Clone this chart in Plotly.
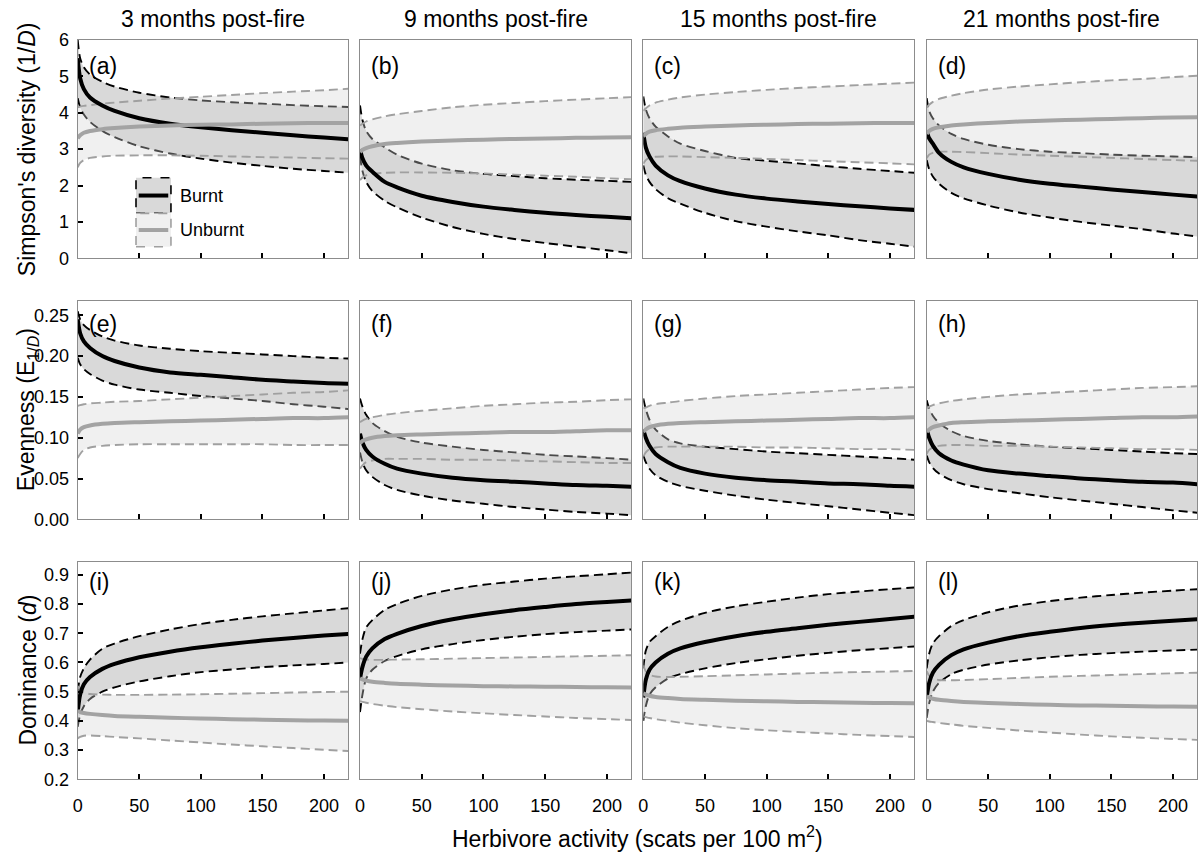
import plotly.graph_objects as go

# ---------------- data ----------------
X = [0, 2, 5, 10, 20, 30, 50, 75, 100, 125, 150, 175, 200, 220]

# Row 1: Simpson's diversity
a_b_mean = [5.5, 4.95, 4.65, 4.42, 4.2, 4.05, 3.85, 3.7, 3.6, 3.52, 3.45, 3.38, 3.32, 3.27]
a_b_hi = [6.0, 5.5, 5.25, 5.05, 4.85, 4.72, 4.55, 4.42, 4.34, 4.29, 4.25, 4.21, 4.18, 4.16]
a_b_lo = [4.4, 4.15, 3.95, 3.75, 3.5, 3.33, 3.08, 2.88, 2.74, 2.63, 2.54, 2.46, 2.4, 2.35]
a_u_mean = [3.3, 3.38, 3.45, 3.5, 3.55, 3.58, 3.62, 3.65, 3.67, 3.68, 3.7, 3.71, 3.72, 3.72]
a_u_hi = [4.15, 4.17, 4.19, 4.21, 4.25, 4.28, 4.33, 4.39, 4.44, 4.49, 4.54, 4.58, 4.62, 4.66]
a_u_lo = [2.5, 2.62, 2.7, 2.76, 2.8, 2.82, 2.83, 2.83, 2.82, 2.8, 2.78, 2.77, 2.75, 2.74]

b_b_mean = [3.0, 2.75, 2.55, 2.38, 2.1, 1.95, 1.72, 1.55, 1.42, 1.33, 1.25, 1.19, 1.14, 1.1]
b_b_hi = [4.2, 3.8, 3.5, 3.28, 3.05, 2.85, 2.6, 2.42, 2.32, 2.26, 2.2, 2.16, 2.13, 2.1]
b_b_lo = [2.8, 2.4, 2.1, 1.85, 1.58, 1.4, 1.12, 0.86, 0.67, 0.53, 0.42, 0.32, 0.22, 0.14]
b_u_mean = [2.92, 2.98, 3.03, 3.08, 3.14, 3.17, 3.21, 3.24, 3.26, 3.28, 3.29, 3.31, 3.32, 3.33]
b_u_hi = [3.65, 3.7, 3.76, 3.82, 3.9, 3.96, 4.05, 4.15, 4.22, 4.27, 4.32, 4.36, 4.4, 4.43]
b_u_lo = [2.15, 2.22, 2.28, 2.32, 2.35, 2.36, 2.36, 2.35, 2.33, 2.3, 2.27, 2.24, 2.2, 2.17]

c_b_mean = [3.45, 3.05, 2.8, 2.55, 2.28, 2.12, 1.92, 1.75, 1.64, 1.56, 1.49, 1.43, 1.37, 1.33]
c_b_hi = [4.45, 4.1, 3.85, 3.62, 3.35, 3.15, 2.95, 2.76, 2.68, 2.61, 2.53, 2.46, 2.4, 2.35]
c_b_lo = [2.55, 2.3, 2.1, 1.9, 1.65, 1.5, 1.25, 1.02, 0.87, 0.74, 0.63, 0.5, 0.4, 0.32]
c_u_mean = [3.35, 3.42, 3.48, 3.52, 3.56, 3.59, 3.62, 3.65, 3.67, 3.69, 3.7, 3.71, 3.72, 3.72]
c_u_hi = [4.05, 4.12, 4.2, 4.28, 4.36, 4.42, 4.5, 4.57, 4.63, 4.68, 4.72, 4.76, 4.8, 4.83]
c_u_lo = [2.6, 2.7, 2.76, 2.79, 2.8, 2.8, 2.78, 2.76, 2.73, 2.7, 2.67, 2.64, 2.61, 2.58]

d_b_mean = [3.5, 3.3, 3.15, 2.9, 2.65, 2.5, 2.32, 2.16, 2.05, 1.97, 1.89, 1.82, 1.75, 1.7]
d_b_hi = [4.4, 4.05, 3.85, 3.65, 3.42, 3.28, 3.12, 3.0, 2.93, 2.89, 2.85, 2.82, 2.8, 2.78]
d_b_lo = [2.7, 2.45, 2.25, 2.05, 1.8, 1.65, 1.45, 1.26, 1.12, 1.0, 0.9, 0.8, 0.68, 0.6]
d_u_mean = [3.42, 3.5, 3.56, 3.6, 3.65, 3.68, 3.72, 3.76, 3.79, 3.81, 3.83, 3.85, 3.87, 3.88]
d_u_hi = [4.15, 4.22, 4.3, 4.38, 4.47, 4.54, 4.64, 4.72, 4.78, 4.84, 4.89, 4.93, 4.98, 5.02]
d_u_lo = [2.75, 2.85, 2.9, 2.93, 2.93, 2.92, 2.89, 2.85, 2.82, 2.79, 2.76, 2.73, 2.7, 2.68]

# Row 2: Evenness
e_b_mean = [0.245, 0.228, 0.218, 0.21, 0.2, 0.194, 0.186, 0.18, 0.177, 0.174, 0.171, 0.169, 0.167, 0.166]
e_b_hi = [0.255, 0.245, 0.238, 0.232, 0.224, 0.219, 0.213, 0.209, 0.206, 0.204, 0.202, 0.2, 0.198, 0.197]
e_b_lo = [0.198, 0.19, 0.184, 0.178, 0.17, 0.165, 0.159, 0.155, 0.151, 0.148, 0.145, 0.141, 0.138, 0.135]
e_u_mean = [0.105, 0.11, 0.113, 0.115, 0.117, 0.118, 0.119, 0.12, 0.121, 0.122, 0.123, 0.124, 0.124, 0.125]
e_u_hi = [0.139, 0.14, 0.141, 0.142, 0.143, 0.144, 0.145, 0.147, 0.149, 0.151, 0.153, 0.155, 0.156, 0.158]
e_u_lo = [0.075, 0.08, 0.085, 0.088, 0.09, 0.091, 0.092, 0.092, 0.092, 0.092, 0.092, 0.091, 0.091, 0.091]

f_b_mean = [0.105, 0.094, 0.085, 0.077, 0.068, 0.062, 0.056, 0.051, 0.048, 0.046, 0.044, 0.042, 0.041, 0.04]
f_b_hi = [0.148, 0.138, 0.128, 0.118, 0.108, 0.101, 0.094, 0.089, 0.085, 0.082, 0.079, 0.077, 0.075, 0.073]
f_b_lo = [0.082, 0.07, 0.06, 0.052, 0.042, 0.036, 0.029, 0.023, 0.019, 0.015, 0.012, 0.009, 0.007, 0.005]
f_u_mean = [0.093, 0.096, 0.098, 0.1, 0.102, 0.103, 0.104, 0.105, 0.106, 0.107, 0.107, 0.108, 0.109, 0.109]
f_u_hi = [0.119, 0.121, 0.123, 0.125, 0.128, 0.13, 0.133, 0.136, 0.139, 0.141, 0.143, 0.144, 0.146, 0.147]
f_u_lo = [0.062, 0.066, 0.07, 0.072, 0.074, 0.074, 0.074, 0.073, 0.073, 0.072, 0.071, 0.07, 0.069, 0.069]

g_b_mean = [0.11, 0.1, 0.09, 0.08, 0.07, 0.063, 0.056, 0.051, 0.048, 0.046, 0.044, 0.043, 0.041, 0.04]
g_b_hi = [0.148, 0.135, 0.122, 0.11, 0.098, 0.093, 0.089, 0.086, 0.083, 0.081, 0.079, 0.077, 0.075, 0.073]
g_b_lo = [0.078, 0.07, 0.062, 0.054, 0.046, 0.041, 0.035, 0.029, 0.024, 0.02, 0.016, 0.012, 0.008, 0.005]
g_u_mean = [0.107, 0.11, 0.113, 0.115, 0.117, 0.118, 0.119, 0.12, 0.121, 0.122, 0.123, 0.124, 0.124, 0.125]
g_u_hi = [0.136, 0.137, 0.139, 0.141, 0.143, 0.145, 0.148, 0.151, 0.153, 0.155, 0.157, 0.159, 0.161, 0.162]
g_u_lo = [0.077, 0.082, 0.086, 0.088, 0.089, 0.089, 0.089, 0.089, 0.088, 0.088, 0.087, 0.086, 0.086, 0.085]

h_b_mean = [0.11, 0.1, 0.09, 0.081, 0.072, 0.067, 0.06, 0.056, 0.053, 0.05, 0.048, 0.046, 0.045, 0.043]
h_b_hi = [0.146, 0.136, 0.127, 0.118, 0.108, 0.102, 0.096, 0.092, 0.089, 0.087, 0.085, 0.083, 0.081, 0.08]
h_b_lo = [0.078, 0.07, 0.063, 0.056, 0.048, 0.043, 0.037, 0.032, 0.027, 0.023, 0.019, 0.015, 0.011, 0.008]
h_u_mean = [0.107, 0.11, 0.113, 0.115, 0.118, 0.119, 0.12, 0.121, 0.122, 0.123, 0.124, 0.125, 0.125, 0.126]
h_u_hi = [0.136, 0.138, 0.14, 0.142, 0.145, 0.147, 0.15, 0.153, 0.155, 0.157, 0.159, 0.161, 0.162, 0.163]
h_u_lo = [0.08, 0.085, 0.088, 0.09, 0.091, 0.091, 0.09, 0.09, 0.089, 0.088, 0.087, 0.086, 0.086, 0.085]

# Row 3: Dominance
i_b_mean = [0.43, 0.49, 0.525, 0.55, 0.578, 0.595, 0.618, 0.637, 0.652, 0.664, 0.675, 0.684, 0.692, 0.698]
i_b_hi = [0.5, 0.55, 0.58, 0.61, 0.647, 0.665, 0.69, 0.713, 0.732, 0.746, 0.758, 0.768, 0.778, 0.786]
i_b_lo = [0.38, 0.42, 0.45, 0.475, 0.5, 0.515, 0.535, 0.553, 0.567, 0.576, 0.584, 0.59, 0.595, 0.6]
i_u_mean = [0.435, 0.43, 0.427, 0.424, 0.42, 0.417, 0.414, 0.411, 0.408, 0.406, 0.404, 0.402, 0.401, 0.4]
i_u_hi = [0.52, 0.505, 0.497, 0.492, 0.49, 0.489, 0.489, 0.49, 0.491, 0.493, 0.495, 0.497, 0.499, 0.5]
i_u_lo = [0.34, 0.345, 0.349, 0.35, 0.348, 0.345, 0.34, 0.333, 0.326, 0.319, 0.313, 0.307, 0.301, 0.297]

j_b_mean = [0.545, 0.585, 0.62, 0.648, 0.68, 0.698, 0.725, 0.748, 0.765, 0.779, 0.79, 0.8, 0.807, 0.812]
j_b_hi = [0.63, 0.68, 0.72, 0.745, 0.78, 0.8, 0.828, 0.85, 0.866, 0.877, 0.887, 0.895, 0.902, 0.908]
j_b_lo = [0.43, 0.49, 0.545, 0.575, 0.605, 0.622, 0.645, 0.663, 0.677, 0.688, 0.697, 0.704, 0.709, 0.713]
j_u_mean = [0.546, 0.542, 0.538, 0.534, 0.53, 0.527, 0.524, 0.521, 0.519, 0.518, 0.517, 0.516, 0.515, 0.514]
j_u_hi = [0.615, 0.612, 0.61, 0.609, 0.609, 0.61, 0.611, 0.613, 0.615, 0.617, 0.619, 0.621, 0.623, 0.625]
j_u_lo = [0.468, 0.465, 0.462, 0.458, 0.452, 0.447, 0.44, 0.432, 0.426, 0.42, 0.415, 0.41, 0.406, 0.403]

k_b_mean = [0.48, 0.54, 0.575, 0.6, 0.63, 0.648, 0.67, 0.69, 0.705, 0.717, 0.729, 0.739, 0.749, 0.757]
k_b_hi = [0.58, 0.64, 0.67, 0.69, 0.722, 0.742, 0.77, 0.792, 0.808, 0.822, 0.834, 0.843, 0.851, 0.857]
k_b_lo = [0.4, 0.45, 0.49, 0.515, 0.545, 0.56, 0.58, 0.598, 0.611, 0.623, 0.633, 0.642, 0.649, 0.655]
k_u_mean = [0.495, 0.49, 0.486, 0.482, 0.478, 0.475, 0.472, 0.469, 0.467, 0.465, 0.464, 0.462, 0.461, 0.46]
k_u_hi = [0.59, 0.57, 0.558, 0.552, 0.55, 0.551, 0.553, 0.556, 0.559, 0.562, 0.565, 0.567, 0.569, 0.571]
k_u_lo = [0.415, 0.413, 0.41, 0.406, 0.4, 0.394, 0.385, 0.375, 0.368, 0.362, 0.357, 0.352, 0.348, 0.345]

l_b_mean = [0.48, 0.53, 0.565, 0.592, 0.625, 0.645, 0.668, 0.69, 0.705, 0.718, 0.728, 0.736, 0.743, 0.748]
l_b_hi = [0.58, 0.63, 0.665, 0.69, 0.725, 0.745, 0.772, 0.795, 0.81, 0.822, 0.831, 0.839, 0.846, 0.851]
l_b_lo = [0.41, 0.46, 0.5, 0.53, 0.56, 0.575, 0.593, 0.607, 0.618, 0.626, 0.632, 0.637, 0.641, 0.644]
l_u_mean = [0.485, 0.48, 0.476, 0.472, 0.468, 0.465, 0.461, 0.458, 0.455, 0.453, 0.452, 0.45, 0.449, 0.448]
l_u_hi = [0.57, 0.555, 0.545, 0.54, 0.539, 0.54, 0.543, 0.547, 0.551, 0.554, 0.557, 0.56, 0.563, 0.565]
l_u_lo = [0.4, 0.398, 0.396, 0.393, 0.388, 0.383, 0.376, 0.367, 0.36, 0.353, 0.347, 0.342, 0.338, 0.335]

COL_TITLES = ["3 months post-fire", "9 months post-fire", "15 months post-fire", "21 months post-fire"]
PANEL_LABELS = ["(a)", "(b)", "(c)", "(d)", "(e)", "(f)", "(g)", "(h)", "(i)", "(j)", "(k)", "(l)"]
ROW_TITLES = ["Simpson's diversity (1/<i>D</i>)",
              "Evenness (E<sub>1/<i>D</i></sub>)",
              "Dominance (<i>d</i>)"]
X_TITLE = "Herbivore activity (scats per 100 m<sup>2</sup>)"
LEGEND_NAMES = ["Burnt", "Unburnt"]
X_TICKS = [0, 50, 100, 150, 200]
Y_TICKS = [[0, 1, 2, 3, 4, 5, 6],
           [0.0, 0.05, 0.10, 0.15, 0.20, 0.25],
           [0.2, 0.3, 0.4, 0.5, 0.6, 0.7, 0.8, 0.9]]
Y_TICKFMT = ["d", ".2f", ".1f"]

PANELS = [
    (a_b_lo, a_b_hi, a_b_mean, a_u_lo, a_u_hi, a_u_mean),
    (b_b_lo, b_b_hi, b_b_mean, b_u_lo, b_u_hi, b_u_mean),
    (c_b_lo, c_b_hi, c_b_mean, c_u_lo, c_u_hi, c_u_mean),
    (d_b_lo, d_b_hi, d_b_mean, d_u_lo, d_u_hi, d_u_mean),
    (e_b_lo, e_b_hi, e_b_mean, e_u_lo, e_u_hi, e_u_mean),
    (f_b_lo, f_b_hi, f_b_mean, f_u_lo, f_u_hi, f_u_mean),
    (g_b_lo, g_b_hi, g_b_mean, g_u_lo, g_u_hi, g_u_mean),
    (h_b_lo, h_b_hi, h_b_mean, h_u_lo, h_u_hi, h_u_mean),
    (i_b_lo, i_b_hi, i_b_mean, i_u_lo, i_u_hi, i_u_mean),
    (j_b_lo, j_b_hi, j_b_mean, j_u_lo, j_u_hi, j_u_mean),
    (k_b_lo, k_b_hi, k_b_mean, k_u_lo, k_u_hi, k_u_mean),
    (l_b_lo, l_b_hi, l_b_mean, l_u_lo, l_u_hi, l_u_mean),
]

# ---------------- layout / styles ----------------
W, H = 1198, 855
COL_PX = [(77.7, 348.0), (360.0, 631.0), (643.3, 914.0), (926.7, 1197.0)]
ROW_PX = [(40.0, 258.3), (301.0, 519.3), (561.7, 779.3)]
Y_RANGES = [[0, 6], [0, 0.2675], [0.2, 0.945]]
X_RANGE = [0, 219.5]
FONT = "Liberation Sans, Arial, sans-serif"

BURNT_FILL = "#d9d9d9"
UNBURNT_FILL = "rgba(211,211,211,0.35)"
BURNT_LINE = "#000000"
UNBURNT_LINE = "#a3a3a3"
UNBURNT_DASH = "#a0a0a0"
BORDER = "#8c8c8c"
DASH = "9px,5px"
SMOOTH = 0.8

fig = go.Figure()
layout = dict(width=W, height=H, margin=dict(l=0, r=0, t=0, b=0, pad=0), autosize=False,
              paper_bgcolor="white", plot_bgcolor="white", showlegend=False,
              font=dict(family=FONT, color="black", size=18))
annotations = []
shapes = []

for p, (blo, bhi, bmean, ulo, uhi, umean) in enumerate(PANELS):
    r, c = divmod(p, 4)
    n = "" if p == 0 else str(p + 1)
    xa, ya = "x" + n, "y" + n
    common = dict(xaxis=xa, yaxis=ya, x=X, mode="lines", hoverinfo="skip",
                  line_shape="spline", line_smoothing=SMOOTH)
    # burnt confidence band
    fig.add_trace(go.Scatter(y=blo, line=dict(color=BURNT_LINE, width=1.9, dash=DASH), **common))
    fig.add_trace(go.Scatter(y=bhi, fill="tonexty", fillcolor=BURNT_FILL,
                             line=dict(color=BURNT_LINE, width=1.9, dash=DASH), **common))
    # unburnt confidence band (semi transparent, drawn above)
    fig.add_trace(go.Scatter(y=ulo, line=dict(color=UNBURNT_DASH, width=1.9, dash=DASH), **common))
    fig.add_trace(go.Scatter(y=uhi, fill="tonexty", fillcolor=UNBURNT_FILL,
                             line=dict(color=UNBURNT_DASH, width=1.9, dash=DASH), **common))
    # fitted means
    fig.add_trace(go.Scatter(y=bmean, line=dict(color=BURNT_LINE, width=4), **common))
    fig.add_trace(go.Scatter(y=umean, line=dict(color=UNBURNT_LINE, width=4), **common))

    x0, x1 = COL_PX[c]
    y0, y1 = ROW_PX[r]
    layout["xaxis" + n] = dict(
        domain=[x0 / W, x1 / W], anchor=ya, range=X_RANGE, automargin=False,
        showline=True, linecolor=BORDER, linewidth=1, mirror=True,
        ticks="inside", ticklen=5, tickwidth=1.5, tickcolor="black",
        tickvals=X_TICKS, showticklabels=(r == 2), ticklabelstandoff=10,
        showgrid=False, zeroline=False, tickfont=dict(size=18, color="black"))
    layout["yaxis" + n] = dict(
        domain=[1 - y1 / H, 1 - y0 / H], anchor=xa, range=Y_RANGES[r], automargin=False,
        showline=True, linecolor=BORDER, linewidth=1, mirror=True,
        ticks="inside" if c == 0 else "", ticklen=5, tickwidth=1.5, tickcolor="black",
        tickvals=Y_TICKS[r], tickformat=Y_TICKFMT[r], showticklabels=(c == 0),
        ticklabelstandoff=4,
        showgrid=False, zeroline=False, tickfont=dict(size=18, color="black"))

    # panel letter
    top_off = [11, 8, 5][r]
    annotations.append(dict(text=PANEL_LABELS[p], xref=xa + " domain", yref=ya + " domain",
                            x=9 / (x1 - x0), y=1 - top_off / (y1 - y0),
                            xanchor="left", yanchor="top", showarrow=False,
                            font=dict(size=23, color="black")))

# column titles
for c, t in enumerate(COL_TITLES):
    x0, x1 = COL_PX[c]
    annotations.append(dict(text=t, xref="paper", yref="paper", x=(x0 + x1) / 2 / W,
                            y=1 - 19 / H, xanchor="center", yanchor="middle",
                            showarrow=False, font=dict(size=23, color="black")))
# row titles
for r, t in enumerate(ROW_TITLES):
    y0, y1 = ROW_PX[r]
    annotations.append(dict(text=t, xref="paper", yref="paper", x=27 / W,
                            y=1 - (y0 + y1) / 2 / H, xanchor="center", yanchor="middle",
                            textangle=-90, showarrow=False, font=dict(size=23, color="black")))
# x title
annotations.append(dict(text=X_TITLE, xref="paper", yref="paper",
                        x=(COL_PX[0][0] + COL_PX[3][1]) / 2 / W, y=1 - 837 / H,
                        xanchor="center", yanchor="middle", showarrow=False,
                        font=dict(size=23, color="black")))

# legend inside panel (a)
LEG = dict(x0=0.2157, x1=0.345, rows=[(0.369, 0.206), (0.206, 0.053)])
leg_styles = [(BURNT_FILL, BURNT_LINE, BURNT_LINE), ("#f0f0f0", UNBURNT_DASH, UNBURNT_LINE)]
for k, ((yt, yb), (fillc, borderc, linec)) in enumerate(zip(LEG["rows"], leg_styles)):
    shapes.append(dict(type="rect", xref="x domain", yref="y domain",
                       x0=LEG["x0"], x1=LEG["x1"], y0=yb, y1=yt, fillcolor=fillc,
                       line=dict(color=borderc, width=1.6, dash="dash"), layer="above"))
    ym = (yt + yb) / 2
    shapes.append(dict(type="line", xref="x domain", yref="y domain",
                       x0=LEG["x0"] + 0.01, x1=LEG["x1"] - 0.01, y0=ym, y1=ym,
                       line=dict(color=linec, width=4), layer="above"))
    annotations.append(dict(text=LEGEND_NAMES[k], xref="x domain", yref="y domain",
                            x=0.372, y=ym, xanchor="left", yanchor="middle",
                            showarrow=False, font=dict(size=18, color="black")))

layout["annotations"] = annotations
layout["shapes"] = shapes
fig.update_layout(**layout)

# remove the default page margin so the figure sits at the window origin
POST = ("document.documentElement.style.margin='0';document.body.style.margin='0';"
        "document.body.style.padding='0';document.body.style.overflow='hidden';")
fig.write_html("out.html", post_script=POST, config={"displayModeBar": False})
